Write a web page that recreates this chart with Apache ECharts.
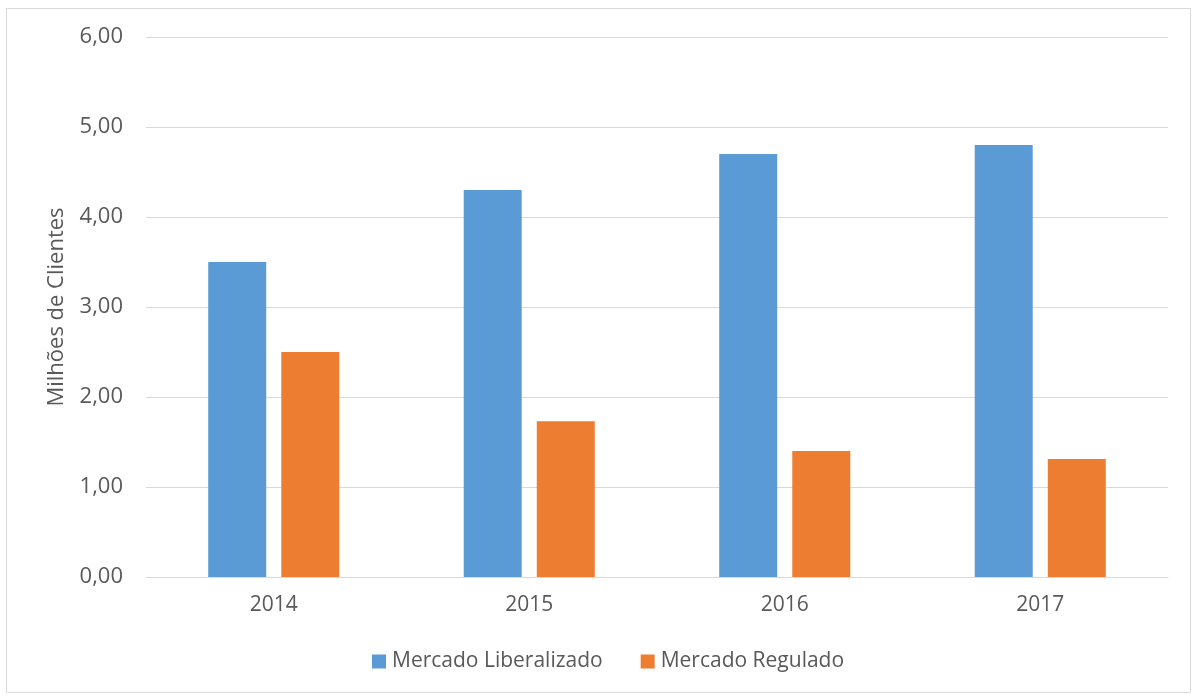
<!DOCTYPE html>
<html>
<head>
<meta charset="utf-8">
<script src="https://cdn.jsdelivr.net/npm/echarts@6/dist/echarts.min.js"></script>
<style>
html,body{margin:0;padding:0;background:#fff;}
#chart{width:1197px;height:697px;}
</style>
</head>
<body>
<div id="chart"></div>
<script>
// Clientes de electricidade por mercado (milhões)
const years = ['2014', '2015', '2016', '2017'];
const liberalizado = [3.50, 4.30, 4.70, 4.80];
const regulado = [2.50, 1.73, 1.40, 1.31];
const seriesNames = ['Mercado Liberalizado', 'Mercado Regulado'];

const FONT = '"Open Sans", sans-serif';
const TEXT = '#595959';

const chart = echarts.init(document.getElementById('chart'));
chart.setOption({
  animation: false,
  textStyle: { fontFamily: FONT },
  graphic: [{
    type: 'rect',
    shape: { x: 6.5, y: 8.5, width: 1184, height: 684 },
    style: { fill: 'none', stroke: '#d9d9d9', lineWidth: 1 },
    silent: true
  }],
  grid: { left: 146, right: 29, top: 37, bottom: 120 },
  legend: {
    data: seriesNames,
    bottom: 20,
    left: 367,
    itemWidth: 14,
    itemHeight: 14,
    itemGap: 38,
    icon: 'rect',
    textStyle: { color: TEXT, fontSize: 21, fontFamily: FONT, padding: [0, 0, 0, 1] }
  },
  xAxis: {
    type: 'category',
    data: years,
    axisLine: { lineStyle: { color: '#d9d9d9', width: 1 } },
    axisTick: { show: false },
    axisLabel: { color: TEXT, fontSize: 21, margin: 18, fontFamily: FONT }
  },
  yAxis: {
    type: 'value',
    min: 0,
    max: 6,
    interval: 1,
    name: 'Milhões de Clientes',
    nameLocation: 'middle',
    nameGap: 78,
    nameRotate: 90,
    nameTextStyle: { color: TEXT, fontSize: 22, fontFamily: FONT },
    axisLine: { show: false },
    axisTick: { show: false },
    splitLine: { lineStyle: { color: '#d9d9d9', width: 1 } },
    axisLabel: {
      color: TEXT, fontSize: 22, margin: 23, fontFamily: FONT,
      formatter: v => v.toFixed(2).replace('.', ',')
    }
  },
  series: [
    {
      name: seriesNames[0],
      type: 'bar',
      data: liberalizado,
      barWidth: '22.7%',
      barGap: '26%',
      itemStyle: { color: '#5b9bd5' }
    },
    {
      name: seriesNames[1],
      type: 'bar',
      data: regulado,
      barWidth: '22.7%',
      itemStyle: { color: '#ed7d31' }
    }
  ]
});
</script>
</body>
</html>
